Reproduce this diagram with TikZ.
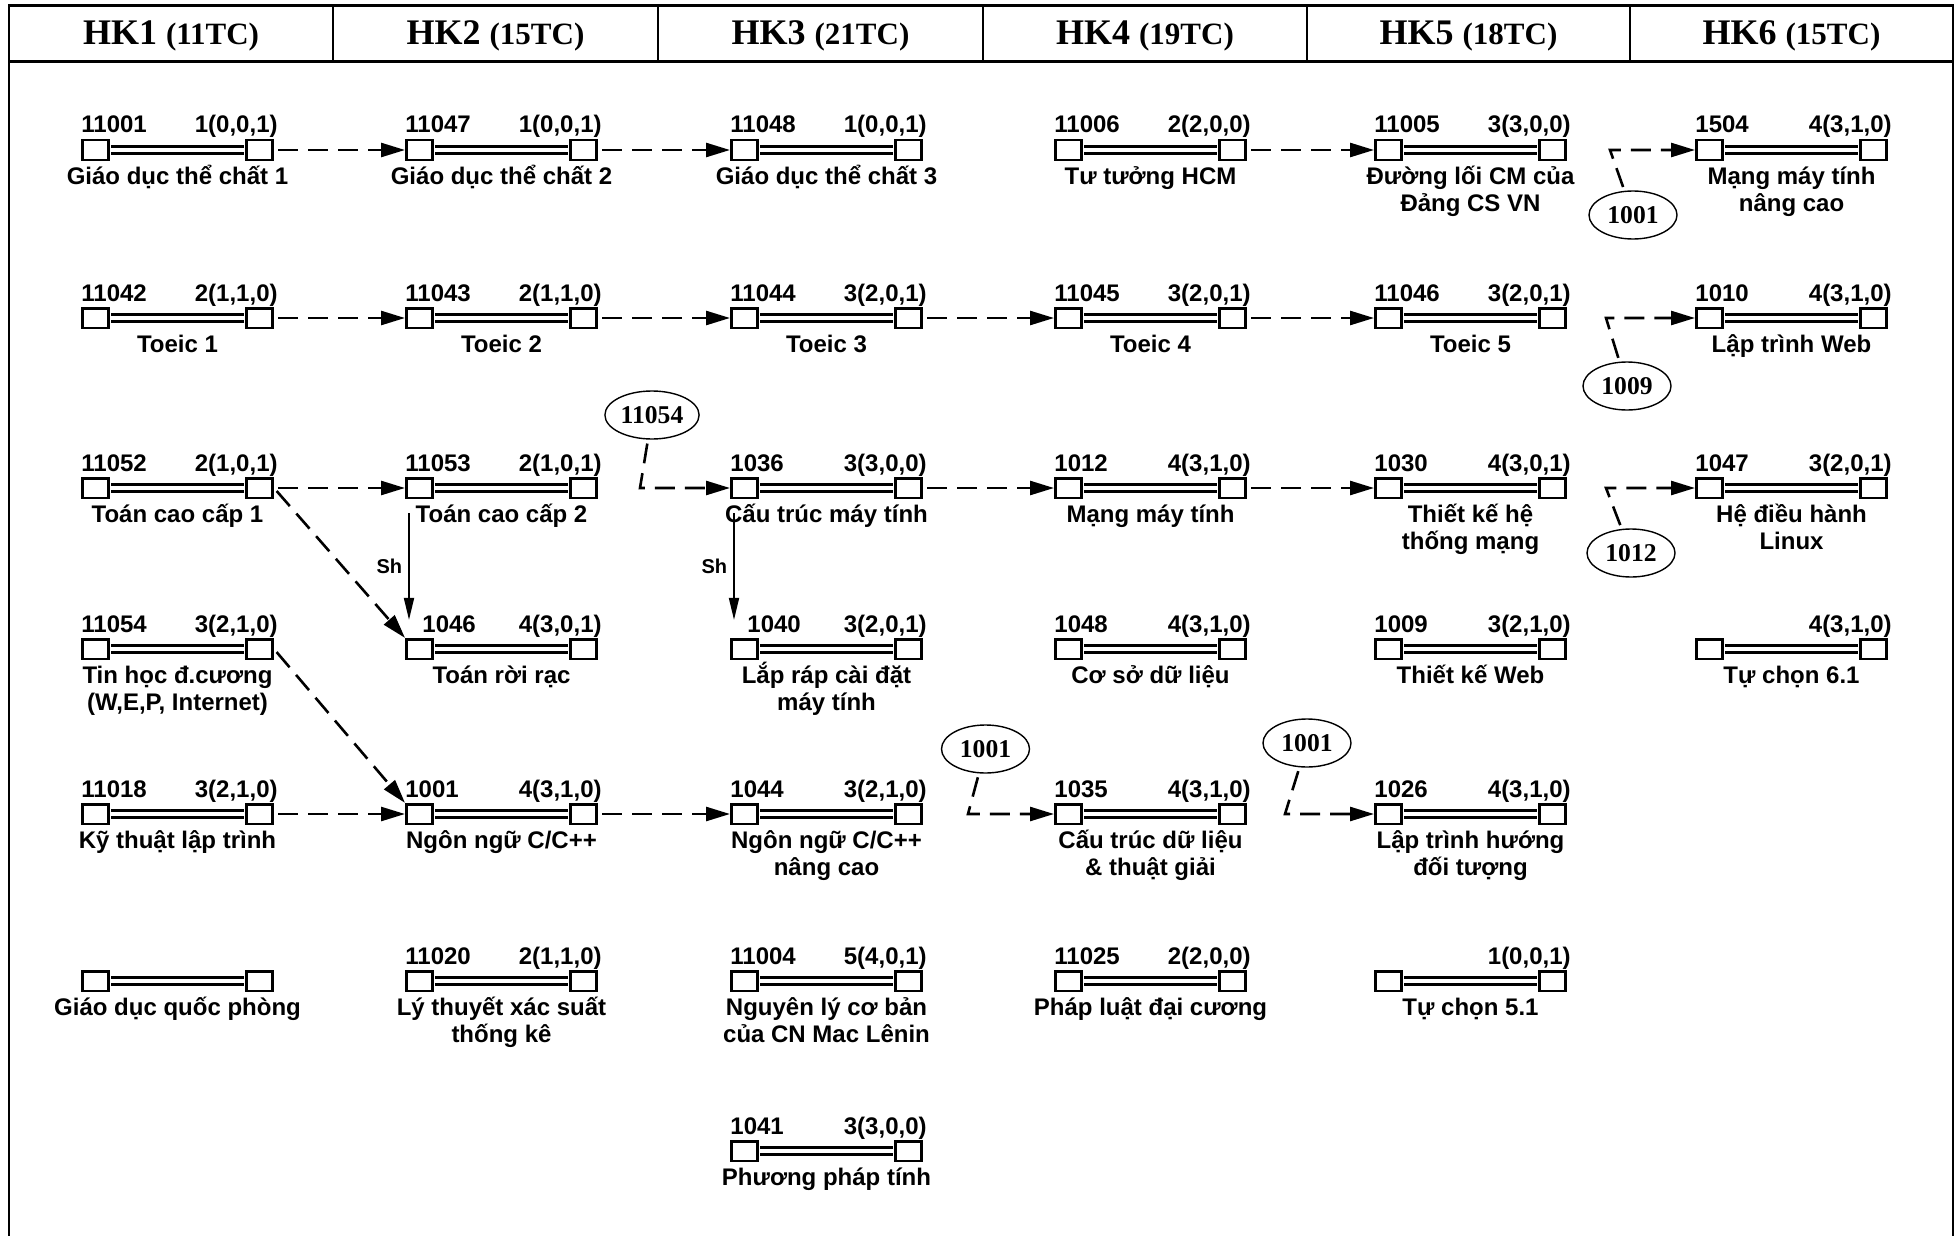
\documentclass[tikz,border=0pt]{standalone}
\usepackage{fontspec}
\setmainfont{Liberation Sans}
\newfontfamily\timesbf{Liberation Serif}
\usetikzlibrary{arrows.meta,shapes.geometric}
\newcommand\labfont{\fontsize{12}{13.5}\selectfont\bfseries}
\newcommand\tagfont{\timesbf\fontsize{12.8}{14}\selectfont\bfseries}
\newcommand\shfont{\fontsize{10}{12}\selectfont\bfseries}
\tikzset{
  frame/.style={line width=1.25pt},
  head/.style={font=\timesbf\bfseries,anchor=base,inner sep=0pt},
  sq/.style={draw,line width=1.3pt,fill=white,minimum width=13.2pt,minimum height=9.8pt,inner sep=0pt},
  link/.style={double,double distance=2pt,line width=1.4pt,shorten <=0.65pt,shorten >=0.65pt},
  code/.style={font=\labfont,inner sep=0pt,anchor=base west},
  cred/.style={font=\labfont,inner sep=0pt,anchor=base east},
  ttl/.style={font=\labfont,inner sep=0pt,anchor=north,align=center},
  prereq/.style={dash pattern=on 10pt off 5pt,line width=1.3pt,shorten <=2pt,-{Triangle[length=12pt,width=7pt]}},
  req/.style={line width=0.9pt,-{Triangle[length=11pt,width=5pt]}},
  tag/.style={ellipse,draw,line width=0.7pt,font=\tagfont,minimum width=44pt,minimum height=24pt,inner sep=1pt}
}
\begin{document}
\begin{tikzpicture}[x=0.5pt,y=-0.5pt]
\useasboundingbox (0,0) rectangle (1959,1236);
% frame and semester header
\draw[frame] (9,1236) -- (9,5.5) -- (1953,5.5) -- (1953,1236);
\draw[frame] (9,61.5) -- (1953,61.5);
\foreach \x in {333,658,983,1307,1630}
  \draw[frame] (\x,5.5) -- (\x,61.5);
\foreach \i/\hx/\tc in {1/171/11,2/495.5/15,3/820.5/21,4/1145/19,5/1468.5/18,6/1791.5/15}
  \node[head] (hk\i) at (\hx,45) {\fontsize{18}{20}\selectfont HK\i\ \fontsize{15.5}{17}\selectfont(\tc TC)};
% courses: left x / row y / name / code shift / code / credits / title
\foreach \cx/\ry/\nm/\dx/\code/\cred/\ttl in {
  81/150/a1/0/11001/{1(0,0,1)}/{Giáo dục thể chất 1},
  405/150/b1/0/11047/{1(0,0,1)}/{Giáo dục thể chất 2},
  730/150/c1/0/11048/{1(0,0,1)}/{Giáo dục thể chất 3},
  1054/150/d1/0/11006/{2(2,0,0)}/{Tư tưởng HCM},
  1374/150/e1/0/11005/{3(3,0,0)}/{Đường lối CM của\\Đảng CS VN},
  1695/150/f1/0/1504/{4(3,1,0)}/{Mạng máy tính\\nâng cao},
  81/318/a2/0/11042/{2(1,1,0)}/{Toeic 1},
  405/318/b2/0/11043/{2(1,1,0)}/{Toeic 2},
  730/318/c2/0/11044/{3(2,0,1)}/{Toeic 3},
  1054/318/d2/0/11045/{3(2,0,1)}/{Toeic 4},
  1374/318/e2/0/11046/{3(2,0,1)}/{Toeic 5},
  1695/318/f2/0/1010/{4(3,1,0)}/{Lập trình Web},
  81/488/a3/0/11052/{2(1,0,1)}/{Toán cao cấp 1},
  405/488/b3/0/11053/{2(1,0,1)}/{Toán cao cấp 2},
  730/488/c3/0/1036/{3(3,0,0)}/{Cấu trúc máy tính},
  1054/488/d3/0/1012/{4(3,1,0)}/{Mạng máy tính},
  1374/488/e3/0/1030/{4(3,0,1)}/{Thiết kế hệ\\thống mạng},
  1695/488/f3/0/1047/{3(2,0,1)}/{Hệ điều hành\\Linux},
  81/649/a4/0/11054/{3(2,1,0)}/{Tin học đ.cương\\(W,E,P, Internet)},
  405/649/b4/17/1046/{4(3,0,1)}/{Toán rời rạc},
  730/649/c4/17/1040/{3(2,0,1)}/{Lắp ráp cài đặt\\máy tính},
  1054/649/d4/0/1048/{4(3,1,0)}/{Cơ sở dữ liệu},
  1374/649/e4/0/1009/{3(2,1,0)}/{Thiết kế Web},
  1695/649/f4/0/{}/{4(3,1,0)}/{Tự chọn 6.1},
  81/814/a5/0/11018/{3(2,1,0)}/{Kỹ thuật lập trình},
  405/814/b5/0/1001/{4(3,1,0)}/{Ngôn ngữ C/C++},
  730/814/c5/0/1044/{3(2,1,0)}/{Ngôn ngữ C/C++\\nâng cao},
  1054/814/d5/0/1035/{4(3,1,0)}/{Cấu trúc dữ liệu\\\& thuật giải},
  1374/814/e5/0/1026/{4(3,1,0)}/{Lập trình hướng\\đối tượng},
  81/981/a6/0/{}/{}/{Giáo dục quốc phòng},
  405/981/b6/0/11020/{2(1,1,0)}/{Lý thuyết xác suất\\thống kê},
  730/981/c6/0/11004/{5(4,0,1)}/{Nguyên lý cơ bản\\của CN Mac Lênin},
  1054/981/d6/0/11025/{2(2,0,0)}/{Pháp luật đại cương},
  1374/981/e6/0/{}/{1(0,0,1)}/{Tự chọn 5.1},
  730/1151/c7/0/1041/{3(3,0,0)}/{Phương pháp tính}}{
  \node[sq] (\nm-l) at (\cx+14.5,\ry) {};
  \node[sq] (\nm-r) at (\cx+178.5,\ry) {};
  \draw[link] (\nm-l.east) -- (\nm-r.west);
  \node[code] (\nm-code) at (\cx+\dx,\ry-17) {\code};
  \node[cred] (\nm-cred) at (\cx+197,\ry-17) {\cred};
  \node[ttl] (\nm-ttl) at (\cx+96.5,\ry+10) {\rule{0pt}{12pt}\ttl};
}
% prerequisite codes from outside
\node[tag] (t1) at (1633,215) {1001};
\node[tag] (t2) at (1627,386) {1009};
\node[tag] (t3) at (1631,553) {1012};
\node[tag] (t4) at (652,415) {11054};
\node[tag] (t5) at (985.5,749) {1001};
\node[tag] (t6) at (1307,743) {1001};
\coordinate (k1) at (1610,150);
\coordinate (k2) at (1606,318);
\coordinate (k3) at (1606,488);
\coordinate (k4) at (640,488);
\coordinate (k5) at (968,814);
\coordinate (k6) at (1285,814);
% prerequisites
\foreach \a/\b in {a1/b1,b1/c1,d1/e1,a2/b2,b2/c2,c2/d2,d2/e2,a3/b3,c3/d3,d3/e3,a5/b5,b5/c5}
  \draw[prereq] (\a-r) -- (\b-l);
\draw[prereq] (a3-r.east) -- (b4-l.north west);
\draw[prereq] (a4-r.east) -- (b5-l.north west);
\foreach \t/\b in {1/f1,2/f2,3/f3,4/c3,5/d5,6/e5}
  \draw[prereq] (t\t) -- (k\t) -- (\b-l);
% parallel courses
\draw[req] ([xshift=2pt,yshift=-7pt]b3-l.south west) -- node[left,font=\shfont,inner sep=3pt] {Sh} ([xshift=2pt,yshift=9pt]b4-l.north west);
\draw[req] ([xshift=2pt,yshift=-7pt]c3-l.south west) -- node[left,font=\shfont,inner sep=3pt] {Sh} ([xshift=2pt,yshift=9pt]c4-l.north west);
\end{tikzpicture}
\end{document}
